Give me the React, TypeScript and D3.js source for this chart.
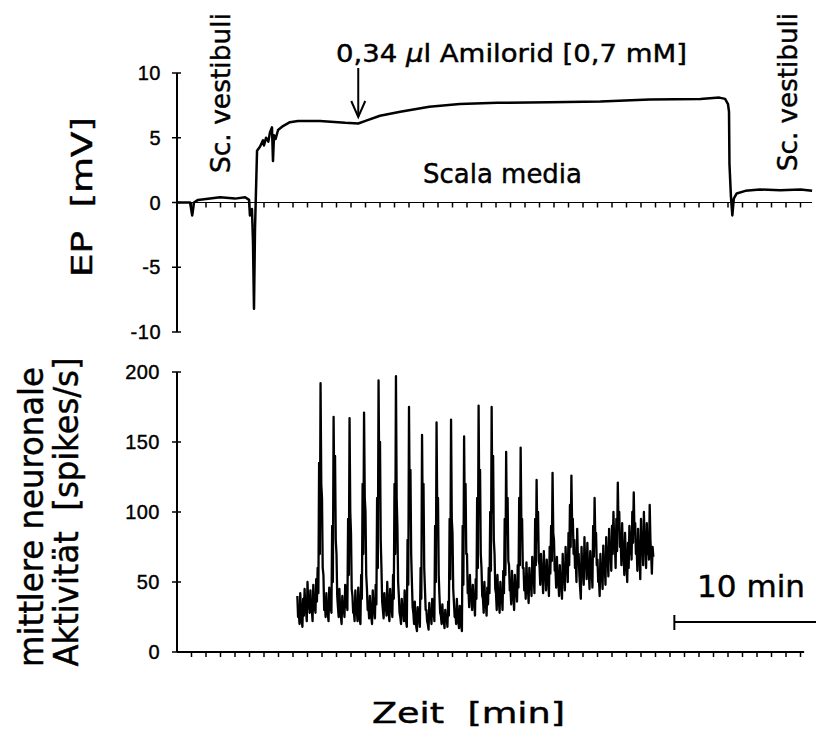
import React from "react";
import * as d3 from "d3";

// EP trace (time in min, mV)
const epTime = [0, 0.9, 1.05, 1.1, 1.17, 1.45, 2.28, 2.97, 4.0, 4.7, 4.97, 5.03, 5.17, 5.24, 5.31, 5.38, 5.45, 5.52, 5.72, 5.93, 6.0, 6.14, 6.3, 6.41, 6.55, 6.62, 6.69, 6.8, 6.97, 7.31, 7.79, 8.34, 9.86, 11.6, 12.5, 13.0, 14.0, 15.4, 17.4, 19.5, 22.1, 25.7, 29.2, 32.6, 36.1, 37.4, 37.8, 38.0, 38.07, 38.1, 38.2, 38.3, 38.4, 38.6, 39.2, 40.2, 41.6, 43.0, 43.8];
const epValue = [0, 0, -1.0, -0.6, 0, 0.2, 0.3, 0.4, 0.3, 0.4, 0.2, -1.0, -0.5, -3, -8.2, -2, 1, 4, 4.3, 4.8, 4.4, 5.0, 4.7, 5.4, 5.8, 3.2, 5.2, 4.9, 5.6, 5.9, 6.2, 6.3, 6.3, 6.15, 6.1, 6.3, 6.7, 7.0, 7.4, 7.6, 7.7, 7.75, 7.8, 7.95, 8.0, 8.1, 8.0, 7.6, 7.0, 3, 0.5, -1.0, 0.3, 0.7, 0.9, 1.0, 0.95, 1.0, 0.9];

// Mean neuronal activity (spikes/s), sampled every rateStep min from rateStart:
// upper and lower value within each sample bin
const rateStart = 8.3;
const rateStep = 0.1;
const rateHigh = [
  40, 28, 42, 22, 38, 45, 30, 50, 35, 44,
  30, 48, 38, 52, 60, 135, 192, 110, 55, 35,
  42, 28, 46, 36, 90, 168, 140, 70, 32, 45,
  26, 40, 33, 48, 38, 95, 167, 85, 40, 28,
  44, 30, 46, 24, 55, 120, 171, 100, 45, 33,
  40, 25, 44, 30, 48, 110, 194, 150, 60, 30,
  42, 35, 50, 28, 45, 32, 55, 120, 197, 90,
  40, 25, 38, 30, 44, 22, 80, 175, 130, 50,
  28, 36, 18, 32, 25, 60, 155, 120, 45, 30,
  20, 35, 28, 38, 30, 90, 164, 110, 40, 26,
  34, 22, 30, 25, 36, 95, 166, 85, 35, 28,
  38, 22, 33, 19, 90, 154, 120, 70, 45, 55,
  40, 48, 36, 52, 110, 176, 130, 60, 38, 50,
  35, 46, 60, 100, 175, 140, 70, 42, 55, 36,
  50, 40, 58, 95, 143, 110, 62, 45, 58, 40,
  55, 48, 62, 110, 146, 95, 60, 50, 64, 46,
  60, 52, 68, 55, 95, 123, 100, 62, 70, 55,
  72, 58, 66, 52, 75, 90, 128, 80, 60, 68,
  50, 62, 48, 70, 55, 75, 65, 85, 105, 126,
  95, 80, 65, 88, 70, 46, 75, 60, 82, 68,
  78, 58, 72, 60, 90, 110, 85, 66, 52, 70,
  58, 76, 62, 82, 70, 88, 75, 90, 100, 78,
  95, 121, 100, 80, 92, 70, 85, 62, 78, 90,
  85, 100, 114, 92, 75, 88, 68, 95, 80, 100,
  78, 92, 85, 105, 70, 75,
];
const rateLow = [
  25, 20, 30, 18, 26, 32, 22, 35, 28, 30,
  22, 30, 28, 36, 42, 70, 120, 60, 30, 25,
  28, 22, 30, 28, 50, 110, 80, 40, 25, 30,
  20, 28, 25, 32, 30, 55, 100, 45, 28, 22,
  30, 22, 32, 20, 38, 70, 110, 55, 30, 24,
  28, 20, 30, 24, 34, 60, 120, 80, 36, 24,
  30, 26, 34, 22, 30, 25, 38, 70, 110, 50,
  28, 20, 28, 22, 30, 18, 48, 100, 70, 32,
  20, 24, 15, 22, 18, 38, 90, 60, 30, 22,
  16, 24, 20, 26, 22, 50, 95, 55, 28, 20,
  24, 17, 22, 18, 26, 52, 95, 45, 25, 20,
  26, 17, 22, 15, 48, 90, 70, 42, 32, 40,
  30, 34, 26, 38, 60, 100, 70, 40, 28, 36,
  26, 34, 42, 58, 100, 80, 45, 30, 40, 28,
  36, 30, 42, 55, 85, 65, 44, 34, 42, 30,
  40, 36, 46, 62, 90, 60, 44, 38, 48, 35,
  45, 40, 52, 42, 62, 80, 65, 48, 54, 42,
  55, 44, 50, 40, 56, 65, 85, 58, 46, 52,
  40, 46, 38, 52, 44, 58, 50, 62, 75, 90,
  70, 60, 50, 65, 55, 38, 58, 48, 62, 52,
  58, 45, 55, 46, 68, 80, 62, 50, 40, 54,
  45, 58, 48, 64, 54, 68, 58, 70, 78, 60,
  72, 90, 75, 62, 70, 55, 66, 50, 60, 70,
  66, 78, 85, 70, 58, 68, 52, 72, 62, 78,
  60, 70, 66, 80, 56, 68,
];

const epTicks = [10, 5, 0, -5, -10];
const rateTicks = [0, 50, 100, 150, 200];
const minuteTicks = d3.range(1, 44);

const FONT = "'DejaVu Sans', 'Open Sans', sans-serif";
const NUM = "'Liberation Sans', Arial, sans-serif";
const TXT_STROKE = 0.45;

type P = { t: number; v: number };

export default function App() {
  const x = d3.scaleLinear().domain([0, 43.4]).range([177, 806.3]);
  const yEP = d3.scaleLinear().domain([-10, 10]).range([332, 73]);
  const yRate = d3.scaleLinear().domain([0, 200]).range([652, 372]);

  const epLine = d3
    .line<number>()
    .x((_, i) => x(epTime[i]))
    .y((d) => yEP(d));

  const ratePts: P[] = [];
  rateHigh.forEach((h, i) => {
    const t = rateStart + i * rateStep;
    ratePts.push({ t, v: h });
    ratePts.push({ t: t + rateStep / 2, v: rateLow[i] });
  });
  const rateLine = d3
    .line<P>()
    .x((d) => x(d.t))
    .y((d) => yRate(d.v));

  const axisX = x(0);
  const arrowX = x(12.5);
  const barStart = 34.3;

  const label = { fontFamily: FONT, stroke: "#000", strokeWidth: TXT_STROKE, lengthAdjust: "spacingAndGlyphs" } as const;

  return (
    <svg
      width={816}
      height={738}
      style={{ position: "absolute", left: 0, top: 0, background: "#fff" }}
    >
      <rect x={0} y={0} width={816} height={738} fill="#fff" />
      {/* ---------- Top panel ---------- */}
      <line x1={axisX} x2={axisX} y1={yEP(10)} y2={yEP(-10)} stroke="#000" strokeWidth={2} />
      {epTicks.map((t) => (
        <g key={"ept" + t}>
          <line x1={axisX - 5} x2={axisX + 4} y1={yEP(t)} y2={yEP(t)} stroke="#000" strokeWidth={1.5} />
          <text
            x={161}
            y={yEP(t)}
            dy="0.36em"
            textAnchor="end"
            fontFamily={NUM}
            fontSize={20}
            letterSpacing={0.5}
            stroke="#000"
            strokeWidth={0.4}
          >
            {t}
          </text>
        </g>
      ))}
      <line x1={axisX} x2={x(43.8)} y1={yEP(0)} y2={yEP(0)} stroke="#000" strokeWidth={1.2} />
      {minuteTicks.map((m) => (
        <line key={"tt" + m} x1={x(m)} x2={x(m)} y1={yEP(0)} y2={yEP(0) + 5} stroke="#000" strokeWidth={1.5} />
      ))}
      <path d={epLine(epValue) || ""} fill="none" stroke="#000" strokeWidth={2.5} strokeLinejoin="round" />

      <text transform={`translate(92,197) rotate(-90)`} textAnchor="middle" fontSize={28} textLength={160} {...label}>
        EP{"\u00a0\u00a0"}[mV]
      </text>
      <text transform={`translate(230,173) rotate(-90)`} fontSize={27} textLength={160} {...label}>
        Sc. vestibuli
      </text>
      <text transform={`translate(797,171) rotate(-90)`} fontSize={27} textLength={158} {...label}>
        Sc. vestibuli
      </text>
      <text x={336} y={62} fontSize={25} textLength={351} {...label}>
        0,34 <tspan fontStyle="italic">μ</tspan>l Amilorid [0,7 mM]
      </text>
      <line x1={arrowX} x2={arrowX} y1={68} y2={117} stroke="#000" strokeWidth={2} />
      <path
        d={`M${arrowX - 7},${101} L${arrowX},${117} L${arrowX + 7},${101}`}
        fill="none"
        stroke="#000"
        strokeWidth={2}
      />
      <text x={423} y={183} fontSize={27} textLength={159} {...label}>
        Scala media
      </text>

      {/* ---------- Bottom panel ---------- */}
      <line x1={axisX} x2={axisX} y1={yRate(200)} y2={yRate(0)} stroke="#000" strokeWidth={2} />
      {rateTicks.map((t) => (
        <g key={"rt" + t}>
          <line x1={axisX - 5} x2={axisX + 4} y1={yRate(t)} y2={yRate(t)} stroke="#000" strokeWidth={1.5} />
          <text
            x={160}
            y={yRate(t)}
            dy="0.36em"
            textAnchor="end"
            fontFamily={NUM}
            fontSize={20}
            letterSpacing={0.5}
            stroke="#000"
            strokeWidth={0.4}
          >
            {t}
          </text>
        </g>
      ))}
      <line x1={axisX} x2={x(43.25)} y1={yRate(0)} y2={yRate(0)} stroke="#000" strokeWidth={2} />
      {minuteTicks.map((m) => (
        <line key={"bt" + m} x1={x(m)} x2={x(m)} y1={yRate(0)} y2={yRate(0) + 5} stroke="#000" strokeWidth={1.5} />
      ))}
      <path d={rateLine(ratePts) || ""} fill="none" stroke="#000" strokeWidth={2.3} strokeLinejoin="round" />

      <text transform={`translate(43,517) rotate(-90)`} textAnchor="middle" fontSize={33} textLength={300} {...label}>
        mittlere neuronale
      </text>
      <text transform={`translate(78,512) rotate(-90)`} textAnchor="middle" fontSize={33} textLength={309} {...label}>
        Aktivität{"\u00a0\u00a0"}[spikes/s]
      </text>

      {/* scale bar */}
      <line x1={x(barStart)} x2={x(barStart + 10)} y1={622} y2={622} stroke="#000" strokeWidth={2} />
      <line x1={x(barStart)} x2={x(barStart)} y1={615} y2={630} stroke="#000" strokeWidth={2} />
      <text x={697} y={597} fontSize={31} textLength={108} {...label}>
        10 min
      </text>

      <text x={372} y={723} fontSize={28} textLength={193} {...label}>
        Zeit{"\u00a0\u00a0"}[min]
      </text>
    </svg>
  );
}
